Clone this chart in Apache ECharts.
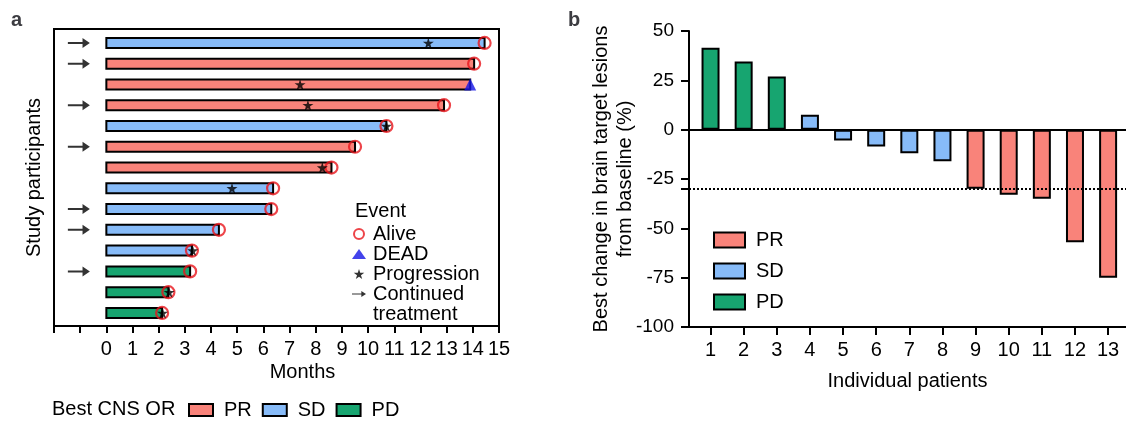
<!DOCTYPE html>
<html lang="en">
<head>
    <meta charset="UTF-8">
    <title>CNS response swimmer and waterfall</title>
    <script src="https://cdn.jsdelivr.net/npm/echarts@6.0.0/dist/echarts.min.js"></script>
    <style>
        body { margin: 0; background: #fff; }
        #main { width: 1126px; height: 423px; }
    </style>
</head>
<body>
    <div id="main"></div>
    <script>
        // ---- panel a: swimmer plot, one row per participant (top to bottom)
        var rowType = ['SD', 'PR', 'PR', 'PR', 'SD', 'PR', 'PR', 'SD', 'SD', 'SD', 'SD', 'PD', 'PD', 'PD'];
        var followUp = [14.45, 14.05, 13.9, 12.9, 10.7, 9.5, 8.6, 6.37, 6.3, 4.3, 3.27, 3.2, 2.37, 2.13];
        var vitalStatus = ['Alive', 'Alive', 'DEAD', 'Alive', 'Alive', 'Alive', 'Alive', 'Alive', 'Alive', 'Alive', 'Alive', 'Alive', 'Alive', 'Alive'];
        var progression = [12.3, null, 7.4, 7.7, 10.7, null, 8.25, 4.8, null, null, 3.3, null, 2.4, 2.15];
        var continued = [true, true, false, true, false, true, false, false, true, true, false, true, false, false];
        var monthTicks = [0, 1, 2, 3, 4, 5, 6, 7, 8, 9, 10, 11, 12, 13, 14, 15];

        // ---- panel b: waterfall
        var patients = [1, 2, 3, 4, 5, 6, 7, 8, 9, 10, 11, 12, 13];
        var bestChange = [41.5, 34.5, 27, 7.5, -5.5, -8.5, -12, -16, -30, -33, -35, -57, -75];
        var response = ['PD', 'PD', 'PD', 'SD', 'SD', 'SD', 'SD', 'SD', 'PR', 'PR', 'PR', 'PR', 'PR'];
        var changeTicks = [50, 25, 0, -25, -30, -50, -75, -100];
        var threshold = -30;

        var colors = { PR: '#F9837A', SD: '#87BBF8', PD: '#17A570' };
        var groups = ['PR', 'SD', 'PD'];
        var font = 'Liberation Sans, Arial, sans-serif';

        var starPath = 'path://M50,0 L61,35 L98,35 L68,57 L79,91 L50,70 L21,91 L32,57 L2,35 L39,35 Z';
        var arrowPath = 'path://M0,4 L16,4 L16,0 L24,5 L16,10 L16,6 L0,6 Z';

        var chart = echarts.init(document.getElementById('main'));

        function swimBar(params, api) {
            var start = api.coord([0, api.value(1)]);
            var end = api.coord([api.value(0), api.value(1)]);
            return {
                type: 'rect',
                shape: { x: start[0], y: start[1] - 5, width: end[0] - start[0], height: 10 },
                style: api.style({ stroke: '#000', lineWidth: 2 })
            };
        }

        var series = [];
        groups.forEach(function (g) {
            var rows = [];
            rowType.forEach(function (t, i) { if (t === g) rows.push([followUp[i], i]); });
            series.push({
                id: 'swim-' + g, name: g, type: 'custom', xAxisIndex: 0, yAxisIndex: 0,
                renderItem: swimBar, encode: { x: 0, y: 1 },
                itemStyle: { color: colors[g] }, data: rows
            });
        });

        var alive = [], dead = [], prog = [], arrows = [];
        followUp.forEach(function (m, i) {
            if (vitalStatus[i] === 'Alive') alive.push([m, i]); else dead.push([m, i]);
            if (progression[i] != null) prog.push([progression[i], i]);
            if (continued[i]) arrows.push([-1.05, i]);
        });

        series.push({
            id: 'ev-alive', name: 'Alive', type: 'scatter', xAxisIndex: 0, yAxisIndex: 0, z: 4,
            symbol: 'circle', symbolSize: 12,
            itemStyle: { color: 'rgba(255,255,255,0)', borderColor: '#E8151B', borderWidth: 2.2 },
            data: alive
        });
        series.push({
            id: 'ev-dead', name: 'DEAD', type: 'scatter', xAxisIndex: 0, yAxisIndex: 0, z: 4,
            symbol: 'triangle', symbolSize: 12,
            itemStyle: { color: '#1414E6' }, data: dead
        });
        series.push({
            id: 'ev-prog', name: 'Progression', type: 'scatter', xAxisIndex: 0, yAxisIndex: 0, z: 5,
            symbol: starPath, symbolSize: 11,
            itemStyle: { color: '#000' }, data: prog
        });
        series.push({
            id: 'ev-cont', name: 'Continued treatment', type: 'scatter', xAxisIndex: 0, yAxisIndex: 0,
            symbol: arrowPath, symbolSize: [22, 10],
            itemStyle: { color: '#000' }, data: arrows
        });

        // waterfall bars, one series per response group
        groups.forEach(function (g) {
            var pts = [];
            patients.forEach(function (p, i) { if (response[i] === g) pts.push([p, bestChange[i]]); });
            series.push({
                id: 'wf-' + g, name: g, type: 'bar', xAxisIndex: 1, yAxisIndex: 1, z: 3,
                barWidth: 18, barGap: '-100%',
                itemStyle: { color: colors[g], borderColor: '#000', borderWidth: 2 },
                data: pts
            });
        });
        series.push({
            id: 'wf-ref', name: 'ref', type: 'line', xAxisIndex: 1, yAxisIndex: 1, z: 1, data: [],
            markLine: {
                silent: true, symbol: 'none', label: { show: false },
                data: [
                    { yAxis: 0, lineStyle: { color: '#000', width: 2, type: 'solid' } },
                    { yAxis: threshold, lineStyle: { color: '#000', width: 2, type: [2, 2] } }
                ]
            }
        });

        var plainTitle = { fontSize: 20, fontWeight: 'normal', fontFamily: font, color: '#000' };

        var option = {
            animation: false,
            textStyle: { fontFamily: font, color: '#000' },
            title: [
                { text: 'a', left: 6, top: 5, textStyle: { fontSize: 20, fontWeight: 'bold', fontFamily: font } },
                { text: 'b', left: 563, top: 5, textStyle: { fontSize: 20, fontWeight: 'bold', fontFamily: font } },
                { text: 'Event', left: 350, top: 196, textStyle: plainTitle },
                { text: 'treatment', left: 368, top: 299, textStyle: plainTitle },
                { text: 'Best CNS OR', left: 47, top: 394, textStyle: plainTitle }
            ],
            legend: [
                {
                    orient: 'vertical', left: 347, top: 219, itemGap: 0, selectedMode: false,
                    itemWidth: 14, itemHeight: 10,
                    textStyle: { fontSize: 20, fontFamily: font, color: '#000', padding: [0, 0, 0, 2] },
                    formatter: function (n) { return n === 'Continued treatment' ? 'Continued' : n; },
                    data: [
                        { name: 'Alive' },
                        { name: 'DEAD' },
                        { name: 'Progression', icon: starPath },
                        { name: 'Continued treatment', icon: arrowPath }
                    ]
                },
                {
                    orient: 'horizontal', left: 183, top: 395, itemGap: 10, selectedMode: false,
                    itemWidth: 24, itemHeight: 12,
                    itemStyle: { borderColor: '#000', borderWidth: 2 },
                    textStyle: { fontSize: 20, fontFamily: font, color: '#000', padding: [0, 0, 0, 6] },
                    data: [{ name: 'PR', icon: 'rect' }, { name: 'SD', icon: 'rect' }, { name: 'PD', icon: 'rect' }]
                },
                {
                    orient: 'vertical', left: 708, top: 225, itemGap: 11, selectedMode: false,
                    itemWidth: 31, itemHeight: 15,
                    itemStyle: { borderColor: '#000', borderWidth: 2 },
                    textStyle: { fontSize: 20, fontFamily: font, color: '#000', padding: [0, 0, 0, 6] },
                    data: [{ name: 'PR', icon: 'rect' }, { name: 'SD', icon: 'rect' }, { name: 'PD', icon: 'rect' }]
                }
            ],
            grid: [
                { left: 54, top: 29, width: 445, height: 297, show: true, borderColor: '#000', borderWidth: 2 },
                { left: 689, top: 31, right: 0, height: 296 }
            ],
            xAxis: [
                {
                    gridIndex: 0, type: 'value', min: -2, max: 15, interval: 1,
                    name: 'Months', nameLocation: 'middle', nameGap: 36, nameMoveOverlap: false,
                    nameTextStyle: { fontSize: 20, fontFamily: font, color: '#000', padding: [0, 0, 0, 52] },
                    axisLine: { onZero: false, lineStyle: { color: '#000', width: 2 } },
                    axisTick: { length: 7, lineStyle: { color: '#000', width: 2 } },
                    axisLabel: {
                        fontSize: 20, fontFamily: font, color: '#000', margin: 13,
                        customValues: monthTicks
                    },
                    splitLine: { show: false }
                },
                {
                    gridIndex: 1, type: 'value', min: 0.35, max: 13.54,
                    name: 'Individual patients', nameLocation: 'middle', nameGap: 44, nameMoveOverlap: false,
                    nameTextStyle: { fontSize: 20, fontFamily: font, color: '#000' },
                    axisLine: { onZero: false, lineStyle: { color: '#000', width: 2 } },
                    axisTick: { length: 8, lineStyle: { color: '#000', width: 2 }, customValues: patients },
                    axisLabel: { fontSize: 20, fontFamily: font, color: '#000', margin: 13, customValues: patients },
                    splitLine: { show: false }
                }
            ],
            yAxis: [
                {
                    gridIndex: 0, type: 'value', inverse: true, min: -0.67, max: 13.63,
                    name: 'Study participants', nameLocation: 'middle', nameGap: 10, nameMoveOverlap: false,
                    nameTextStyle: { fontSize: 20, fontFamily: font, color: '#000' },
                    axisLine: { show: false, onZero: false }, axisTick: { show: false },
                    axisLabel: { show: false }, splitLine: { show: false }
                },
                {
                    gridIndex: 1, type: 'value', min: -100, max: 50, interval: 25,
                    name: 'Best change in brain target lesions\nfrom baseline (%)',
                    nameLocation: 'middle', nameGap: 52, nameMoveOverlap: false,
                    nameTextStyle: { fontSize: 20, fontFamily: font, color: '#000', lineHeight: 24 },
                    axisLine: { show: true, onZero: false, lineStyle: { color: '#000', width: 2 } },
                    axisTick: { show: true, length: 8, lineStyle: { color: '#000', width: 2 }, customValues: changeTicks },
                    axisLabel: { fontSize: 19, fontFamily: font, color: '#000', margin: 15 },
                    splitLine: { show: false }
                }
            ],
            series: series
        };

        chart.setOption(option);
    </script>
</body>
</html>
